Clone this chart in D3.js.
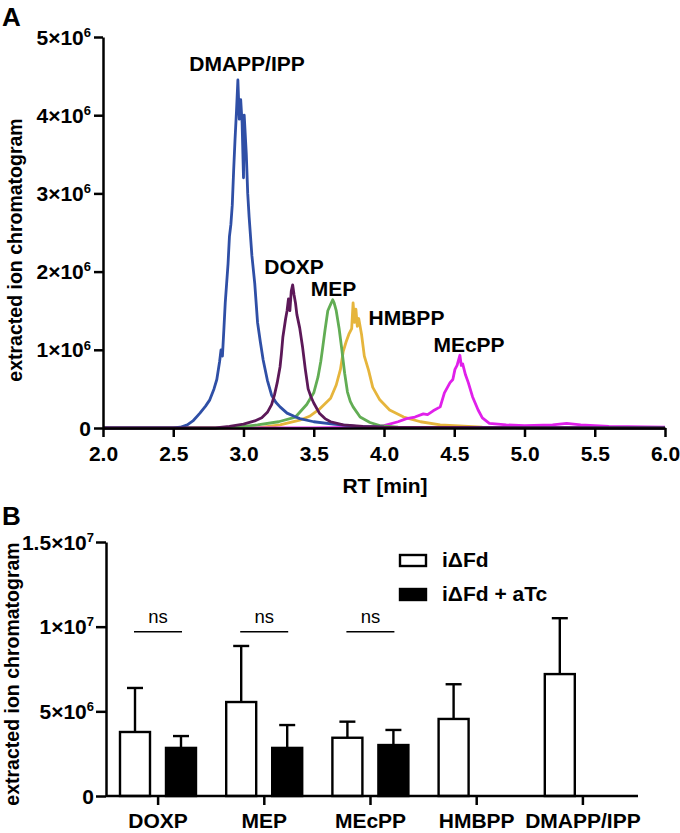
<!DOCTYPE html>
<html><head><meta charset="utf-8">
<script src="https://cdn.jsdelivr.net/npm/d3@7"></script>
<style>
body{margin:0;background:#fff}
text{font-family:"Liberation Sans",Arial,Helvetica,sans-serif}
</style>
</head><body>
<svg id="chart" width="680" height="833"></svg>
<script>
// ---------- DATA (panel A: chromatogram traces, intensity in units of 1e6) ----------
const dmappTrace = [[2.0,0],[2.5,0],[2.55,0.01],[2.6,0.04],[2.64,0.09],[2.69,0.19],[2.73,0.28],[2.76,0.36],[2.79,0.5],[2.81,0.62],[2.83,0.85],[2.84,1.0],[2.85,0.92],[2.86,1.25],[2.87,1.6],[2.89,2.1],[2.9,2.45],[2.91,2.6],[2.92,2.85],[2.93,3.3],[2.94,3.7],[2.95,4.05],[2.96,4.45],[2.97,3.95],[2.98,4.2],[2.99,3.9],[3.0,3.2],[3.005,4.0],[3.02,3.5],[3.03,3.0],[3.04,2.7],[3.06,2.2],[3.08,1.85],[3.1,1.35],[3.12,1.1],[3.14,0.87],[3.17,0.61],[3.2,0.42],[3.23,0.33],[3.26,0.27],[3.31,0.19],[3.36,0.15],[3.4,0.12],[3.5,0.08],[3.64,0.05],[3.8,0.02],[4.0,0.01],[6.0,0]];
const doxpTrace = [[2.0,0],[2.8,0],[2.9,0.02],[3.0,0.05],[3.08,0.09],[3.13,0.13],[3.17,0.2],[3.2,0.3],[3.22,0.42],[3.24,0.58],[3.26,0.78],[3.27,0.95],[3.28,1.16],[3.3,1.4],[3.31,1.5],[3.32,1.65],[3.33,1.5],[3.34,1.75],[3.35,1.83],[3.36,1.7],[3.37,1.6],[3.38,1.45],[3.4,1.28],[3.42,1.04],[3.44,0.75],[3.46,0.5],[3.48,0.4],[3.5,0.32],[3.54,0.19],[3.58,0.12],[3.62,0.08],[3.71,0.04],[3.85,0.02],[4.0,0.01],[6.0,0]];
const mepTrace = [[2.0,0],[2.85,0],[3.0,0.02],[3.1,0.04],[3.25,0.08],[3.37,0.14],[3.45,0.3],[3.5,0.45],[3.53,0.65],[3.55,0.85],[3.56,0.98],[3.58,1.25],[3.6,1.5],[3.62,1.58],[3.635,1.64],[3.645,1.6],[3.66,1.5],[3.68,1.28],[3.7,1.0],[3.72,0.7],[3.74,0.46],[3.76,0.34],[3.78,0.27],[3.83,0.14],[3.9,0.07],[3.97,0.03],[4.1,0.01],[6.0,0]];
const hmbppTrace = [[2.0,0],[3.1,0],[3.26,0.04],[3.4,0.1],[3.47,0.15],[3.54,0.24],[3.62,0.38],[3.66,0.55],[3.69,0.75],[3.71,0.98],[3.73,1.1],[3.75,1.2],[3.77,1.27],[3.78,1.6],[3.79,1.35],[3.8,1.52],[3.81,1.3],[3.82,1.4],[3.84,1.2],[3.86,0.92],[3.89,0.74],[3.92,0.52],[3.97,0.36],[4.04,0.23],[4.14,0.14],[4.26,0.08],[4.4,0.04],[4.7,0.01],[6.0,0]];
const mecppTrace = [[2.0,0],[3.5,0],[3.9,0.01],[4.0,0.03],[4.1,0.08],[4.16,0.12],[4.22,0.14],[4.28,0.18],[4.31,0.17],[4.35,0.22],[4.4,0.27],[4.43,0.45],[4.47,0.58],[4.49,0.62],[4.505,0.75],[4.52,0.8],[4.54,0.93],[4.55,0.8],[4.56,0.82],[4.58,0.68],[4.6,0.58],[4.63,0.4],[4.67,0.23],[4.7,0.13],[4.75,0.06],[4.87,0.04],[5.0,0.03],[5.2,0.04],[5.3,0.06],[5.4,0.04],[5.6,0.02],[6.0,0.01]];
const traceNames = ["HMBPP","MEcPP","MEP","DMAPP/IPP","DOXP"];
const traceColors = ["#e6b53c","#e020ea","#62ad54","#2f4fa6","#5c1858"];
// peak label anchors (RT, intensity x1e6)
const peakLabelNames = ["DMAPP/IPP","DOXP","MEP","HMBPP","MEcPP"];
const peakLabelRT = [3.025,3.36,3.64,4.16,4.605];
const peakLabelVal = [4.57,1.97,1.69,1.32,0.97];
const topXTicks = [2.0,2.5,3.0,3.5,4.0,4.5,5.0,5.5,6.0];
const topYTicks = [0,1,2,3,4,5];
const topYTickLabels = [["0",""],["1×10","6"],["2×10","6"],["3×10","6"],["4×10","6"],["5×10","6"]];

// ---------- DATA (panel B: bars, units of 1e6) ----------
const barCategories = ["DOXP","MEP","MEcPP","HMBPP","DMAPP/IPP"];
const barGroups = ["iΔFd","iΔFd + aTc"];
const meanUntreated = [3.78,5.55,3.44,4.55,7.2];
const sdUntreated = [2.6,3.31,0.95,2.05,3.3];
const meanATc = [2.84,2.84,3.01,null,null];
const sdATc = [0.7,1.35,0.89,null,null];
const nsCategories = ["DOXP","MEP","MEcPP"];
const nsLevel = 9.7;
const botYTicks = [0,5,10,15];
const botYTickLabels = [["0",""],["5×10","6"],["1×10","7"],["1.5×10","7"]];

// ---------- DRAW ----------
const svg = d3.select("#chart");
const FS = 21, AX = 2.5;

// panel labels
svg.append("text").attr("x",2).attr("y",26).attr("font-size",26).attr("font-weight","bold").text("A");
svg.append("text").attr("x",2).attr("y",525).attr("font-size",26).attr("font-weight","bold").text("B");

// ===== Panel A =====
const x = d3.scaleLinear().domain([2,6]).range([103,665]);
const y = d3.scaleLinear().domain([0,5]).range([428,37]);
const gA = svg.append("g");

const traces = [hmbppTrace, mecppTrace, mepTrace, dmappTrace, doxpTrace];
const line = d3.line().x(d=>x(d[0])).y(d=>y(d[1]));
traces.forEach((t,i)=>{
  gA.append("path").datum(t).attr("d",line).attr("fill","none")
    .attr("stroke",traceColors[i]).attr("stroke-width",2.8).attr("stroke-linejoin","round");
});

const xAxA = gA.append("g").attr("transform","translate(0,428)")
  .call(d3.axisBottom(x).tickValues(topXTicks).tickFormat(d3.format(".1f")).tickSize(9).tickSizeOuter(0));
const yAxA = gA.append("g").attr("transform","translate(103,0)")
  .call(d3.axisLeft(y).tickValues(topYTicks).tickFormat("").tickSize(9).tickSizeOuter(0));
[xAxA,yAxA].forEach(a=>{
  a.selectAll("path,line").attr("stroke","#000").attr("stroke-width",AX);
  a.selectAll("text").attr("font-size",FS).attr("font-weight","bold").attr("fill","#000").attr("font-family","Liberation Sans, Arial, sans-serif");
});
xAxA.selectAll("text").attr("y",33).attr("dy",0);

function supLabels(g, scale, ticks, labels, xEnd){
  ticks.forEach((t,i)=>{
    const tx = g.append("text").attr("x",xEnd).attr("y",scale(t)).attr("dy","0.36em")
      .attr("text-anchor","end").attr("font-size",FS).attr("font-weight","bold");
    tx.append("tspan").text(labels[i][0]);
    if(labels[i][1]) tx.append("tspan").attr("font-size",13).attr("dy","-0.6em").text(labels[i][1]);
  });
}
supLabels(gA, y, topYTicks, topYTickLabels, 91);

gA.append("text").attr("transform","translate(22,250) rotate(-90)").attr("text-anchor","middle")
  .attr("font-size",19.5).attr("font-weight","bold").text("extracted ion chromatogram");
gA.append("text").attr("x",385).attr("y",493).attr("text-anchor","middle")
  .attr("font-size",FS).attr("font-weight","bold").text("RT [min]");

peakLabelNames.forEach((n,i)=>{
  gA.append("text").attr("x",x(peakLabelRT[i])).attr("y",y(peakLabelVal[i])).attr("text-anchor","middle")
    .attr("font-size",FS).attr("font-weight","bold").text(n);
});

// ===== Panel B =====
const xb = d3.scaleBand().domain(barCategories).range([105,636]);
const xg = d3.scaleBand().domain(barGroups).range([15,91]).paddingInner(16/46);
const yb = d3.scaleLinear().domain([0,15]).range([796,542]);
const gB = svg.append("g");

const barRows = [];
barCategories.forEach((c,i)=>{
  barRows.push({cat:c, grp:barGroups[0], mean:meanUntreated[i], sd:sdUntreated[i]});
  if(meanATc[i]!==null) barRows.push({cat:c, grp:barGroups[1], mean:meanATc[i], sd:sdATc[i]});
});
const bx = d=> xb(d.cat) + xg(d.grp);
gB.selectAll(".err").data(barRows).enter().append("line")
  .attr("x1",d=>bx(d)+xg.bandwidth()/2).attr("x2",d=>bx(d)+xg.bandwidth()/2)
  .attr("y1",d=>yb(d.mean)).attr("y2",d=>yb(d.mean+d.sd)).attr("stroke","#000").attr("stroke-width",2.4);
gB.selectAll(".cap").data(barRows).enter().append("line")
  .attr("x1",d=>bx(d)+xg.bandwidth()/2-8).attr("x2",d=>bx(d)+xg.bandwidth()/2+8)
  .attr("y1",d=>yb(d.mean+d.sd)).attr("y2",d=>yb(d.mean+d.sd)).attr("stroke","#000").attr("stroke-width",2.4);
gB.selectAll(".bar").data(barRows).enter().append("rect")
  .attr("x",d=>bx(d)).attr("width",xg.bandwidth())
  .attr("y",d=>yb(d.mean)).attr("height",d=>yb(0)-yb(d.mean))
  .attr("fill",d=>d.grp===barGroups[0]?"#fff":"#000").attr("stroke","#000").attr("stroke-width",2.4);

nsCategories.forEach(c=>{
  const x1 = xb(c)+xg(barGroups[0])+xg.bandwidth()/2-1;
  const x2 = xb(c)+xg(barGroups[1])+xg.bandwidth()/2+1;
  gB.append("line").attr("x1",x1).attr("x2",x2).attr("y1",yb(nsLevel)).attr("y2",yb(nsLevel))
    .attr("stroke","#000").attr("stroke-width",1.7);
  gB.append("text").attr("x",(x1+x2)/2).attr("y",yb(nsLevel)-9).attr("text-anchor","middle")
    .attr("font-size",18.5).text("ns");
});

const xAxB = gB.append("g").attr("transform","translate(0,796)")
  .call(d3.axisBottom(xb).tickSize(9).tickSizeOuter(0));
const yAxB = gB.append("g").attr("transform","translate(106,0)")
  .call(d3.axisLeft(yb).tickValues(botYTicks).tickFormat("").tickSize(10).tickSizeOuter(0));
[xAxB,yAxB].forEach(a=>{
  a.selectAll("path,line").attr("stroke","#000").attr("stroke-width",AX);
  a.selectAll("text").attr("font-size",FS).attr("font-weight","bold").attr("fill","#000").attr("font-family","Liberation Sans, Arial, sans-serif");
});
xAxB.select(".domain").attr("d","M106,0H638");
xAxB.selectAll("text").attr("y",32).attr("dy",0);
supLabels(gB, yb, botYTicks, botYTickLabels, 94);

gB.append("text").attr("transform","translate(19,674) rotate(-90)").attr("text-anchor","middle")
  .attr("font-size",19.5).attr("font-weight","bold").text("extracted ion chromatogram");

barGroups.forEach((g,i)=>{
  const ly = [555,589][i];
  gB.append("rect").attr("x",400).attr("y",ly).attr("width",26).attr("height",11)
    .attr("fill",i===0?"#fff":"#000").attr("stroke","#000").attr("stroke-width",2.4);
  gB.append("text").attr("x",442).attr("y",ly+12).attr("font-size",FS).attr("font-weight","bold").text(g);
});
</script>
</body></html>
